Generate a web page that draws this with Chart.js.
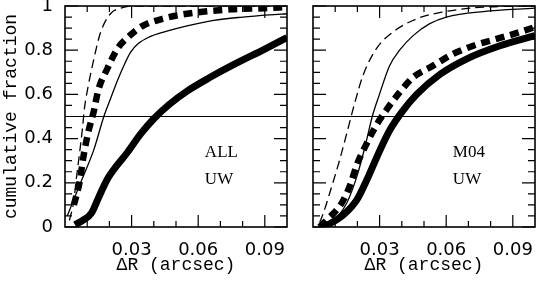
<!DOCTYPE html>
<html>
<head>
<meta charset="utf-8">
<script src="https://cdn.jsdelivr.net/npm/chart.js@4.4.1/dist/chart.umd.min.js"></script>
<style>
  html, body { margin: 0; padding: 0; background: #fff; }
  #wrap { position: relative; width: 536px; height: 283px; overflow: hidden; }
  .panel { position: absolute; top: 0; height: 283px; }
  #left { left: 0; width: 300px; }
  #right { left: 300px; width: 236px; }
</style>
</head>
<body>
<div id="wrap">
  <div class="panel" id="left"><canvas id="cLeft"></canvas></div>
  <div class="panel" id="right"><canvas id="cRight"></canvas></div>
</div>
<script>
// axis ticks
const xTickLabels = [0.03, 0.06, 0.09];
const xMinorTicks = [0.01, 0.02, 0.04, 0.05, 0.07, 0.08];
const yTickLabels = [0, 0.2, 0.4, 0.6, 0.8, 1];
const yMinorTicks = [0.05, 0.1, 0.15, 0.25, 0.3, 0.35, 0.45, 0.5, 0.55, 0.65, 0.7, 0.75, 0.85, 0.9, 0.95];
const halfLevel = 0.5;

// ALL / UW panel
const allThinDashX = [0.002, 0.004, 0.005, 0.0065, 0.0078, 0.0088, 0.0105, 0.013, 0.016, 0.0205, 0.025, 0.03, 0.1];
const allThinDashY = [0.03, 0.12, 0.21, 0.33, 0.44, 0.54, 0.64, 0.76, 0.88, 0.965, 0.99, 1.0, 1.0];
const allThickDashX = [0.004, 0.0065, 0.0085, 0.0105, 0.013, 0.015, 0.019, 0.0235, 0.0285, 0.035, 0.045, 0.055, 0.075, 0.09, 0.1];
const allThickDashY = [0.10, 0.2, 0.33, 0.43, 0.525, 0.62, 0.715, 0.805, 0.86, 0.91, 0.945, 0.965, 0.985, 0.99, 0.995];
const allThinX = [0.001, 0.007, 0.013, 0.0175, 0.0205, 0.0235, 0.0265, 0.0295, 0.033, 0.038, 0.0455, 0.055, 0.067, 0.08, 0.092, 0.1];
const allThinY = [0.05, 0.2, 0.35, 0.5, 0.58, 0.66, 0.73, 0.79, 0.83, 0.86, 0.885, 0.91, 0.935, 0.95, 0.96, 0.965];
const allThickX = [0.0045, 0.008, 0.012, 0.015, 0.019, 0.0235, 0.028, 0.034, 0.040, 0.047, 0.055, 0.065, 0.077, 0.09, 0.1];
const allThickY = [0.01, 0.03, 0.064, 0.13, 0.215, 0.28, 0.336, 0.42, 0.49, 0.555, 0.615, 0.675, 0.74, 0.805, 0.857];

// M04 / UW panel
const m04ThinDashX = [0.003, 0.0047, 0.0085, 0.0123, 0.0153, 0.0185, 0.0225, 0.0285, 0.036, 0.0467, 0.0586, 0.0767, 0.1];
const m04ThinDashY = [0.02, 0.064, 0.185, 0.314, 0.427, 0.55, 0.685, 0.806, 0.882, 0.942, 0.973, 0.995, 1.0];
const m04ThickDashX = [0.003, 0.0063, 0.013, 0.0168, 0.0198, 0.0236, 0.0288, 0.0333, 0.039, 0.0451, 0.0541, 0.0631, 0.0722, 0.0827, 0.0932, 0.1];
const m04ThickDashY = [0.0, 0.033, 0.109, 0.192, 0.283, 0.366, 0.465, 0.533, 0.609, 0.677, 0.73, 0.783, 0.82, 0.851, 0.882, 0.905];
const m04ThinX = [0.006, 0.0105, 0.0153, 0.0198, 0.0236, 0.0267, 0.0296, 0.0345, 0.039, 0.0451, 0.0526, 0.0601, 0.0767, 0.1];
const m04ThinY = [0.005, 0.04, 0.11, 0.23, 0.37, 0.5, 0.59, 0.73, 0.80, 0.866, 0.92, 0.95, 0.975, 0.99];
const m04ThickX = [0.005, 0.0138, 0.0198, 0.025, 0.0303, 0.0348, 0.040, 0.0467, 0.0571, 0.0691, 0.0842, 0.1];
const m04ThickY = [0.0, 0.056, 0.124, 0.23, 0.351, 0.442, 0.52, 0.60, 0.69, 0.76, 0.82, 0.866];

function pts(xs, ys) {
  return xs.map((x, i) => ({ x: x, y: ys[i] }));
}

function curve(xs, ys, width, dash) {
  return {
    data: pts(xs, ys),
    borderColor: '#000',
    borderWidth: width,
    borderDash: dash,
    borderCapStyle: 'butt',
    cubicInterpolationMode: 'monotone',
    pointRadius: 0,
    fill: false
  };
}

// frame with inward ticks on all four sides, plus the panel labels
const framePlugin = {
  id: 'frame',
  afterDatasetsDraw(chart, args, opts) {
    const ctx = chart.ctx;
    const a = chart.chartArea;
    const xs = chart.scales.x;
    const ys = chart.scales.y;
    ctx.save();
    ctx.strokeStyle = '#000';
    ctx.lineWidth = 1.2;
    ctx.beginPath();
    xMinorTicks.forEach(v => {
      const p = xs.getPixelForValue(v);
      ctx.moveTo(p, a.bottom); ctx.lineTo(p, a.bottom - 6);
      ctx.moveTo(p, a.top); ctx.lineTo(p, a.top + 6);
    });
    xTickLabels.forEach(v => {
      const p = xs.getPixelForValue(v);
      ctx.moveTo(p, a.bottom); ctx.lineTo(p, a.bottom - 12);
      ctx.moveTo(p, a.top); ctx.lineTo(p, a.top + 12);
    });
    yMinorTicks.forEach(v => {
      const p = ys.getPixelForValue(v);
      ctx.moveTo(a.left, p); ctx.lineTo(a.left + 7, p);
      ctx.moveTo(a.right, p); ctx.lineTo(a.right - 7, p);
    });
    yTickLabels.forEach(v => {
      const p = ys.getPixelForValue(v);
      ctx.moveTo(a.left, p); ctx.lineTo(a.left + 13, p);
      ctx.moveTo(a.right, p); ctx.lineTo(a.right - 13, p);
    });
    ctx.stroke();
    ctx.lineWidth = 1.6;
    ctx.strokeRect(a.left, a.top, a.right - a.left, a.bottom - a.top);

    ctx.fillStyle = '#000';
    ctx.font = '17px "Liberation Serif"';
    ctx.textAlign = 'left';
    ctx.textBaseline = 'middle';
    opts.lines.forEach((t, i) => {
      ctx.fillText(t, xs.getPixelForValue(opts.x), ys.getPixelForValue(opts.y[i]));
    });
    ctx.restore();
  }
};

function makePanel(id, series, lines, showY, pad) {
  return new Chart(document.getElementById(id), {
    type: 'line',
    data: {
      datasets: [
        { data: [{ x: 0, y: halfLevel }, { x: 0.1, y: halfLevel }], borderColor: '#000', borderWidth: 1, pointRadius: 0 },
        curve(series[3][0], series[3][1], 7, []),
        curve(series[1][0], series[1][1], 6.5, [9, 6]),
        curve(series[2][0], series[2][1], 1.3, []),
        curve(series[0][0], series[0][1], 1.3, [9, 5])
      ]
    },
    options: {
      responsive: true,
      maintainAspectRatio: false,
      animation: false,
      layout: { padding: pad },
      plugins: {
        legend: { display: false },
        tooltip: { enabled: false },
        frame: { lines: lines, x: 0.063, y: [0.335, 0.215] }
      },
      scales: {
        x: {
          type: 'linear',
          min: 0,
          max: 0.1,
          grid: { display: false, drawTicks: false },
          border: { display: false },
          afterBuildTicks: s => { s.ticks = xTickLabels.map(v => ({ value: v })); },
          afterFit: s => { s.height = 56; s.paddingLeft = 0; s.paddingRight = 0; },
          ticks: {
            autoSkip: false,
            maxRotation: 0,
            padding: 13,
            color: '#000',
            font: { family: 'DejaVu Sans', size: 18 },
            callback: v => String(v)
          },
          title: {
            display: true,
            text: 'ΔR (arcsec)',
            color: '#000',
            font: { family: 'Liberation Mono', size: 18 },
            padding: { top: 0, bottom: 7 }
          }
        },
        y: {
          type: 'linear',
          min: 0,
          max: 1,
          grid: { display: false, drawTicks: false },
          border: { display: false },
          afterBuildTicks: s => { s.ticks = yTickLabels.map(v => ({ value: v })); },
          afterFit: s => { s.width = showY ? 65 : 13; s.paddingTop = 0; s.paddingBottom = 0; },
          ticks: {
            display: showY,
            autoSkip: false,
            padding: 12,
            color: '#000',
            font: { family: 'DejaVu Sans', size: 18 },
            callback: v => String(v)
          },
          title: {
            display: showY,
            text: 'cumulative fraction',
            color: '#000',
            font: { family: 'Liberation Mono', size: 18 },
            padding: { top: 0, bottom: 0 }
          }
        }
      }
    },
    plugins: [framePlugin]
  });
}

makePanel('cLeft',
  [[allThinDashX, allThinDashY], [allThickDashX, allThickDashY], [allThinX, allThinY], [allThickX, allThickY]],
  ['ALL', 'UW'], true, { top: 6, right: 13, left: 0, bottom: 0 });

makePanel('cRight',
  [[m04ThinDashX, m04ThinDashY], [m04ThickDashX, m04ThickDashY], [m04ThinX, m04ThinY], [m04ThickX, m04ThickY]],
  ['M04', 'UW'], false, { top: 6, right: 1, left: 0, bottom: 0 });
</script>
</body>
</html>
